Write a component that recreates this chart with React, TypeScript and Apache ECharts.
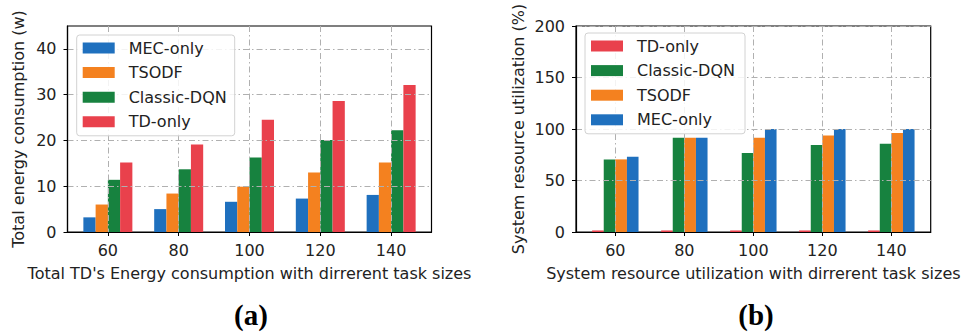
import React, { useEffect, useRef } from "react";
import * as echarts from "echarts";

const categories = ["60", "80", "100", "120", "140"];
const categoryPositions = [0, 1, 2, 3, 4];

const energyMEC = [3.2, 5.0, 6.6, 7.3, 8.1];
const energyTSODF = [6.0, 8.4, 9.9, 13.0, 15.2];
const energyDQN = [11.4, 13.7, 16.3, 20.1, 22.2];
const energyTD = [15.2, 19.1, 24.5, 28.6, 32.1];

const utilTD = [1.5, 1.5, 1.5, 1.5, 1.5];
const utilDQN = [70.5, 91.5, 76.6, 84.4, 85.7];
const utilTSODF = [70.5, 91.5, 91.5, 93.8, 96.1];
const utilMEC = [73.0, 91.5, 100, 100, 100];

const energyTicks = [0, 10, 20, 30, 40];
const utilTicks = [0, 50, 100, 150, 200];

const COLORS: Record<string, string> = {
  "MEC-only": "#1f70be",
  TSODF: "#f4811f",
  "Classic-DQN": "#17823f",
  "TD-only": "#e9414c",
};

const FONT = "DejaVu Sans";
const FS = 16;
const gridDash = { color: "#b0b0b0", width: 1, type: [6, 3, 1.5, 3] as any };

function toPoints(vals: number[]) {
  return vals.map((v, i) => [categoryPositions[i], v]);
}

function xAxisFor(gridIndex: number, name: string) {
  return {
    type: "value",
    gridIndex,
    min: -0.57,
    max: 4.57,
    z: 3,
    name,
    nameLocation: "middle",
    nameGap: 33,
    nameTextStyle: { fontFamily: FONT, fontSize: FS, color: "#222" },
    axisLine: { show: true, onZero: false, lineStyle: { color: "#000", width: 1.2 } },
    axisTick: { show: true, length: 4, customValues: categoryPositions, lineStyle: { color: "#000" } },
    axisLabel: {
      customValues: categoryPositions,
      margin: 10,
      fontFamily: FONT,
      fontSize: FS,
      color: "#222",
      formatter: (v: number) => categories[Math.round(v)] ?? "",
    },
    splitLine: { show: true, lineStyle: gridDash },
  };
}

function yAxisFor(gridIndex: number, max: number, ticks: number[], name: string, nameGap: number) {
  return {
    type: "value",
    gridIndex,
    min: 0,
    max,
    z: 3,
    name,
    nameLocation: "middle",
    nameGap,
    nameTextStyle: { fontFamily: FONT, fontSize: FS, color: "#222" },
    axisLine: { show: true, onZero: false, lineStyle: { color: "#000", width: 1.2 } },
    axisTick: { show: true, length: 4, customValues: ticks, lineStyle: { color: "#000" } },
    axisLabel: { customValues: ticks, margin: 11, fontFamily: FONT, fontSize: FS, color: "#222" },
    splitLine: { show: true, lineStyle: gridDash },
  };
}

function barSeries(name: string, vals: number[], idx: number, width: number) {
  return {
    type: "bar",
    name,
    xAxisIndex: idx,
    yAxisIndex: idx,
    data: toPoints(vals),
    barWidth: width,
    barGap: "0%",
    itemStyle: { color: COLORS[name] },
    z: 2,
  };
}

function legendFor(left: number, top: number, names: string[], textWidth: number) {
  return {
    orient: "vertical",
    left,
    top,
    data: names,
    icon: "rect",
    itemWidth: 32,
    itemHeight: 11,
    itemGap: 8.6,
    padding: [5, 7, 6, 6],
    selectedMode: false,
    backgroundColor: "rgba(255,255,255,0.85)",
    borderColor: "#d2d2d2",
    borderWidth: 1,
    borderRadius: 3,
    textStyle: {
      fontFamily: FONT,
      fontSize: FS,
      lineHeight: 16,
      color: "#222",
      width: textWidth,
      padding: [0, 0, 0, 9],
    },
  };
}

export default function App() {
  const ref = useRef<HTMLDivElement>(null);
  useEffect(() => {
    if (!ref.current) return;
    const chart = echarts.init(ref.current, undefined, { renderer: "svg" });
    chart.setOption({
      animation: false,
      backgroundColor: "#fff",
      grid: [
        { left: 67.5, top: 26, width: 364, height: 206, show: true, borderColor: "#000", borderWidth: 1.2, z: 1 },
        { left: 576, top: 26, width: 354.7, height: 206, show: true, borderColor: "#000", borderWidth: 1.2, z: 1 },
      ],
      xAxis: [
        xAxisFor(0, "Total TD's Energy consumption with dirrerent task sizes"),
        xAxisFor(1, "System resource utilization with dirrerent task sizes"),
      ],
      yAxis: [
        yAxisFor(0, 45, energyTicks, "Total energy consumption (w)", 41),
        yAxisFor(1, 200, utilTicks, "System resource utilization (%)", 50),
      ],
      legend: [
        legendFor(76.7, 35, ["MEC-only", "TSODF", "Classic-DQN", "TD-only"], 99),
        legendFor(585, 33, ["TD-only", "Classic-DQN", "TSODF", "MEC-only"], 101),
      ],
      series: [
        barSeries("MEC-only", energyMEC, 0, 12.25),
        barSeries("TSODF", energyTSODF, 0, 12.25),
        barSeries("Classic-DQN", energyDQN, 0, 12.25),
        barSeries("TD-only", energyTD, 0, 12.25),
        barSeries("TD-only", utilTD, 1, 11.6),
        barSeries("Classic-DQN", utilDQN, 1, 11.6),
        barSeries("TSODF", utilTSODF, 1, 11.6),
        barSeries("MEC-only", utilMEC, 1, 11.6),
      ],
      graphic: [
        {
          type: "text",
          x: 251,
          y: 315,
          style: {
            text: "(a)",
            font: "bold 29px 'Liberation Serif', serif",
            fill: "#000",
            align: "center",
            verticalAlign: "middle",
          },
        },
        {
          type: "text",
          x: 756,
          y: 315,
          style: {
            text: "(b)",
            font: "bold 29px 'Liberation Serif', serif",
            fill: "#000",
            align: "center",
            verticalAlign: "middle",
          },
        },
      ],
    });
    return () => chart.dispose();
  }, []);
  return (
    <div
      ref={ref}
      style={{ position: "fixed", left: 0, top: 0, width: 967, height: 332, background: "#fff" }}
    />
  );
}
